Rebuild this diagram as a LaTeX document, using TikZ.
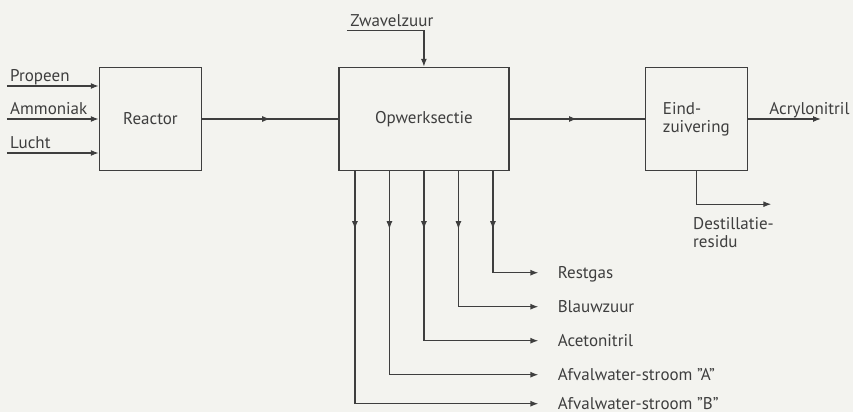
\documentclass[tikz,border=0pt]{standalone}
\usepackage{fontspec}
\setmainfont{PT Sans}
\usetikzlibrary{arrows.meta,positioning,decorations.markings}

\definecolor{paper}{RGB}{243,243,239}
\definecolor{ink}{RGB}{62,62,62}

\begin{document}
\begin{tikzpicture}[
  font=\fontsize{8.5}{9}\selectfont,
  line/.style={ink, line width=0.65pt},
  arrow/.style={line, -{Latex[length=4pt,width=3pt]}},
  midarrow/.style={line, postaction={decorate},
                   decoration={markings, mark=at position #1 with {\arrow{Latex[length=4pt,width=3pt]}}}},
  unit/.style={rectangle, draw=ink, line width=0.7pt, text=ink, align=left,
               minimum width=51pt, minimum height=51.5pt, inner sep=0pt},
  lbl/.style={text=ink, inner sep=1.5pt, text height=6pt, text depth=0.6pt},
  note/.style={text=ink, inner sep=1.5pt, align=left}
]

% Page
\fill[paper] (0,0) rectangle (426.5pt,-206pt);
\useasboundingbox (0,0) rectangle (426.5pt,-206pt);

% Units
\node[unit] (reactor) at (75.25pt,-59.5pt) {Reactor};
\node[unit, minimum width=85pt, right=68pt of reactor] (opwerk) {Opwerksectie};
\node[unit, right=67.5pt of opwerk] (eind) {Eind-\\zuivering};

% Feeds
\coordinate (propeen in) at ([shift={(-46pt,16.5pt)}]reactor.west);
\coordinate (ammoniak in) at ([xshift=-46pt]reactor.west);
\coordinate (lucht in) at ([shift={(-46pt,-17pt)}]reactor.west);
\coordinate (zwavel in) at ([shift={(-38.5pt,18pt)}]opwerk.north);

\node[lbl, anchor=south west] (propeen) at (propeen in) {Propeen};
\node[lbl, anchor=south west] (ammoniak) at (ammoniak in) {Ammoniak};
\node[lbl, anchor=south west] (lucht) at (lucht in) {Lucht};
\node[lbl, anchor=south west] (zwavel) at (zwavel in) {Zwavelzuur};

% Products
\coordinate (acryl out) at ([xshift=36.5pt]eind.east);
\coordinate (dest out) at ([shift={(37.5pt,-16.5pt)}]eind.south);

\node[lbl, anchor=south west] (acryl) at ([xshift=9pt]eind.east) {Acrylonitril};
\node[note, anchor=north west] (dest) at ([shift={(-3.25pt,-21.5pt)}]eind.south)
  {Destillatie-\\residu};

\node[lbl, anchor=west] (restgas) at ([shift={(65.25pt,-50.75pt)}]opwerk.south) {Restgas};
\node[lbl, anchor=west] (blauw) at ([shift={(65.25pt,-67.75pt)}]opwerk.south) {Blauwzuur};
\node[lbl, anchor=west] (aceto) at ([shift={(65.25pt,-84.75pt)}]opwerk.south) {Acetonitril};
\node[lbl, anchor=west] (afvalA) at ([shift={(65.25pt,-101.75pt)}]opwerk.south) {Afvalwater-stroom ''A''};
\node[lbl, anchor=west] (afvalB) at ([shift={(65.25pt,-116.25pt)}]opwerk.south) {Afvalwater-stroom ''B''};

% Arrows
\draw[arrow] (propeen in) -- (propeen in -| reactor.west);
\draw[arrow] (ammoniak in) -- (reactor.west);
\draw[arrow] (lucht in) -- (lucht in -| reactor.west);
\draw[arrow] (zwavel in) -| (opwerk.north);

\draw[midarrow=0.5] (reactor) -- (opwerk);
\draw[midarrow=0.5] (opwerk) -- (eind);

\draw[arrow] (eind) -- (acryl out);
\draw[arrow] (eind.south) |- (dest out);

\draw[arrow, midarrow=29pt] ([xshift=34.5pt]opwerk.south) |- ([xshift=-8pt]restgas.west);
\draw[arrow, midarrow=29pt] ([xshift=17.25pt]opwerk.south) |- ([xshift=-8pt]blauw.west);
\draw[arrow, midarrow=29pt] (opwerk.south) |- ([xshift=-8pt]aceto.west);
\draw[arrow, midarrow=29pt] ([xshift=-17.25pt]opwerk.south) |- ([xshift=-8pt]afvalA.west);
\draw[arrow, midarrow=29pt] ([xshift=-34.5pt]opwerk.south) |- ([xshift=-8pt]afvalB.west);

\end{tikzpicture}
\end{document}
